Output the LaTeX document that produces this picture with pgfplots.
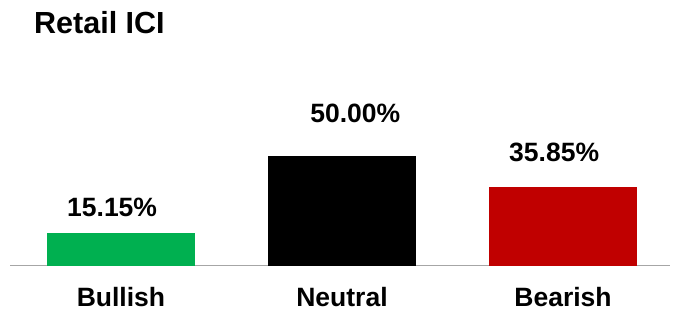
\documentclass[border=0pt]{standalone}
\usepackage{pgfplots}
\pgfplotsset{compat=1.18}
\usepackage{fontspec}
\setmainfont{Liberation Sans}
\definecolor{cgreen}{HTML}{00B050}
\definecolor{cred}{HTML}{C00000}
\definecolor{cline}{HTML}{A6A6A6}
\begin{document}
\begin{tikzpicture}
\useasboundingbox (0,0) rectangle (673pt,324pt);
\node[anchor=base west, inner sep=0pt, font=\fontsize{30.5}{33}\selectfont\bfseries] at (34pt,290pt) {Retail ICI};
\begin{axis}[
  at={(10pt,58pt)}, anchor=south west,
  scale only axis, width=660pt, height=220pt,
  xmin=-0.502, xmax=2.484, ymin=0, ymax=100,
  axis x line=bottom, axis y line=none,
  x axis line style={cline, line width=1pt, -},
  xtick={0,1,2}, xticklabels={Bullish,Neutral,Bearish},
  major tick length=0pt,
  xticklabel style={font=\fontsize{26.5}{30}\selectfont\bfseries, anchor=base, yshift=-41pt, inner sep=0pt},
  ytick=\empty,
  clip=false,
  bar width=148pt,
]
\addplot[ybar, fill=cgreen, draw=none] coordinates {(0,15.15)};
\addplot[ybar, fill=black, draw=none] coordinates {(1,50.00)};
\addplot[ybar, fill=cred, draw=none] coordinates {(2,35.85)};
\addplot[draw=none, mark=none,
  nodes near coords, point meta=explicit symbolic,
  nodes near coords style={anchor=base, inner sep=0pt, font=\fontsize{26.5}{30}\selectfont\bfseries}]
  coordinates {(-0.04,22.7) [15.15\%] (1.06,65) [50.00\%] (1.96,47.3) [35.85\%]};
\end{axis}
\end{tikzpicture}
\end{document}
